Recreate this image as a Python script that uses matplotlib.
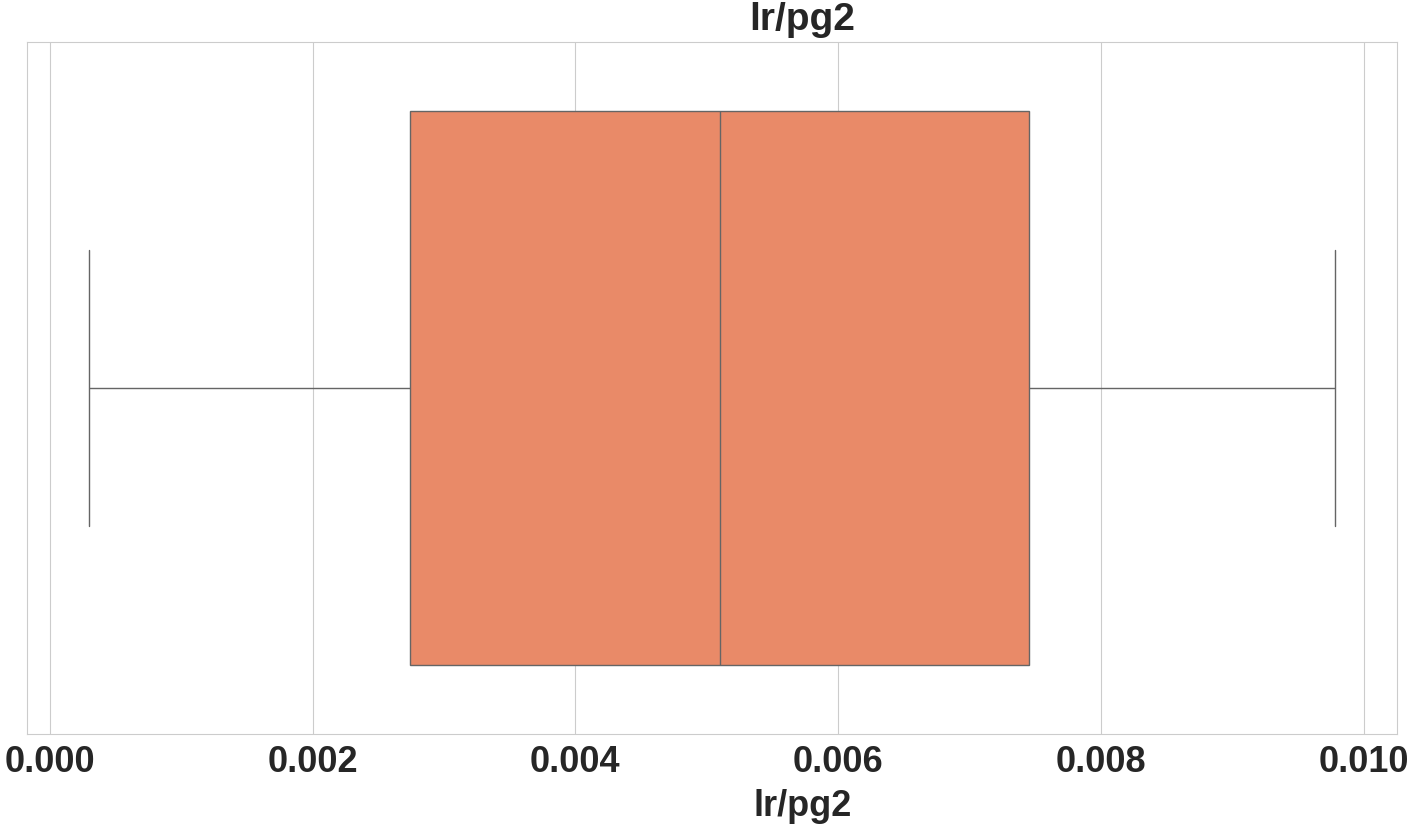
import numpy as np
import pandas as pd
import matplotlib
matplotlib.use("Agg")
import matplotlib.pyplot as plt
import seaborn as sns

# values: min, Q1, median, Q3, max
lr_values = [0.0003, 0.00274, 0.0051, 0.00745, 0.00978]
tick_values = [0.0, 0.002, 0.004, 0.006, 0.008, 0.010]
tick_labels = ["0.000", "0.002", "0.004", "0.006", "0.008", "0.010"]

df = pd.DataFrame({"lr/pg2": lr_values})

sns.set_style("whitegrid")
plt.rcParams['font.family'] = ['Liberation Sans', 'DejaVu Sans']

fig = plt.figure(figsize=(14.16, 8.28), dpi=100)
ax = fig.add_axes([0.019, 0.1123, 0.9676, 0.8357])

sns.boxplot(x=df["lr/pg2"], ax=ax, color="#E98A68", saturation=1, width=0.8)

ax.set_title("lr/pg2", fontsize=28, fontweight="bold", pad=9.5)
ax.title.set_x(0.566)
ax.set_xlabel("lr/pg2", fontsize=26, fontweight="bold", labelpad=7)
ax.xaxis.label.set_x(0.566)
ax.set_xticks(tick_values)
ax.set_xticklabels(tick_labels)
for lbl in ax.get_xticklabels():
    lbl.set_fontsize(26)
    lbl.set_fontweight("bold")

fig.savefig("out.png", dpi=100)
